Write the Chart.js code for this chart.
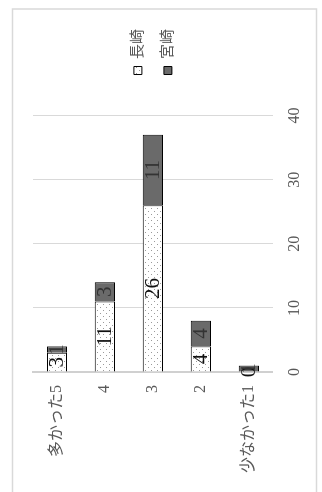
<!DOCTYPE html>
<html>
<head>
<meta charset="utf-8">
<script src="https://cdn.jsdelivr.net/npm/chart.js@4"></script>
<style>
  body { margin: 0; width: 322px; height: 492px; overflow: hidden; background: #fff; }
  /* chart is drawn landscape, then turned a quarter to the left */
  #wrap { position: absolute; left: 0; top: 0; width: 492px; height: 322px;
          transform-origin: 0 0; transform: translate(0, 492px) rotate(-90deg); }
</style>
</head>
<body>
<div id="wrap"><canvas id="chart" width="492" height="322"></canvas></div>
<script>
// data
const categories = ['多かった5', '4', '3', '2', '少なかった1'];
const nagasaki = [3, 11, 26, 4, 0];
const miyazaki = [1, 3, 11, 4, 1];
const seriesNames = ['長崎', '宮崎'];
const axisMax = 40;
const axisStep = 10;

const serif = "'Liberation Serif', 'Noto Sans CJK JP', serif";

// dotted fill for the white bars
function dotPattern() {
    const c = document.createElement('canvas');
    c.width = 6;
    c.height = 6;
    const g = c.getContext('2d');
    g.fillStyle = '#ffffff';
    g.fillRect(0, 0, 6, 6);
    g.fillStyle = '#9a9a9a';
    g.fillRect(1, 1, 1, 1);
    g.fillRect(4, 4, 1, 1);
    return g.createPattern(c, 'repeat');
}

// light frame round the chart
const framePlugin = {
    id: 'frame',
    beforeDraw(chart) {
        const ctx = chart.ctx;
        ctx.save();
        ctx.fillStyle = '#ffffff';
        ctx.fillRect(0, 0, chart.width, chart.height);
        ctx.strokeStyle = '#d9d9d9';
        ctx.lineWidth = 1.5;
        ctx.strokeRect(-5, 12.5, 488, 304);
        ctx.restore();
    }
};

// value written in the middle of each bar piece
const valueLabels = {
    id: 'valueLabels',
    afterDatasetsDraw(chart) {
        const ctx = chart.ctx;
        ctx.save();
        ctx.font = '21px ' + serif;
        ctx.textAlign = 'center';
        ctx.textBaseline = 'middle';
        chart.data.datasets.forEach((ds, i) => {
            const meta = chart.getDatasetMeta(i);
            ctx.fillStyle = i === 0 ? '#111111' : '#333333';
            meta.data.forEach((bar, j) => {
                ctx.fillText(String(ds.data[j]), (bar.x + bar.base) / 2, bar.y + 1);
            });
        });
        ctx.restore();
    }
};

const ctx = document.getElementById('chart');
const chart = new Chart(ctx, {
    type: 'bar',
    data: {
        labels: categories,
        datasets: [
            {
                label: seriesNames[0],
                data: nagasaki,
                backgroundColor: dotPattern(),
                borderColor: '#000000',
                borderWidth: 1,
            },
            {
                label: seriesNames[1],
                data: miyazaki,
                backgroundColor: '#6a6a6a',
                borderColor: '#000000',
                borderWidth: 1,
            },
        ],
    },
    options: {
        indexAxis: 'y',
        responsive: false,
        animation: false,
        devicePixelRatio: 1,
        categoryPercentage: 1,
        barPercentage: 0.42,
        layout: { padding: { left: 0, top: 33, right: 19, bottom: 6 } },
        plugins: {
            tooltip: { enabled: false },
            legend: {
                position: 'right',
                fullSize: false,
                labels: {
                    boxWidth: 8,
                    boxHeight: 8,
                    padding: 15,
                    color: '#595959',
                    font: { family: serif, size: 15 },
                },
            },
        },
        scales: {
            x: {
                stacked: true,
                min: 0,
                max: axisMax,
                ticks: { stepSize: axisStep, padding: 12, color: '#595959', font: { family: serif, size: 16 } },
                grid: { color: '#d9d9d9', lineWidth: 1, drawTicks: false },
                border: { display: false },
            },
            y: {
                stacked: true,
                ticks: { padding: 13, color: '#595959', font: { family: serif, size: 16 } },
                grid: { display: false, drawTicks: false },
                border: { display: true, color: '#d0d0d0', width: 2 },
                afterFit(s) { s.width = 120; },
            },
            // empty strip between plot and legend
            gap: {
                type: 'linear',
                position: 'right',
                display: true,
                ticks: { display: false },
                grid: { display: false, drawTicks: false },
                border: { display: false },
                afterFit(s) { s.width = 26; },
            },
        },
    },
    plugins: [framePlugin, valueLabels],
});
</script>
</body>
</html>
